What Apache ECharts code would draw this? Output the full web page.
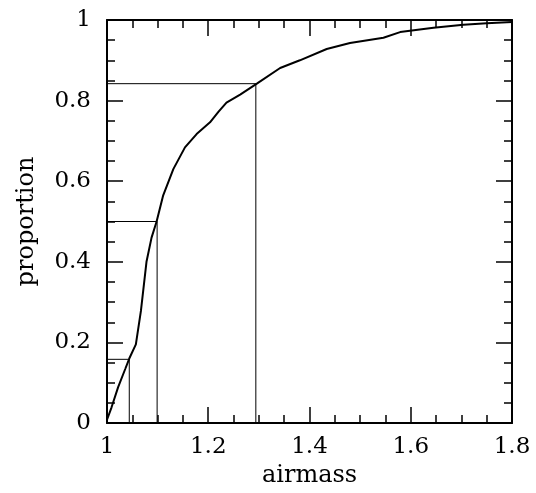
<!DOCTYPE html>
<html>
<head>
<meta charset="utf-8">
<script src="https://cdn.jsdelivr.net/npm/echarts@6/dist/echarts.min.js"></script>
<style>
html,body{margin:0;padding:0;background:#fff;}
#main{width:536px;height:493px;}
</style>
</head>
<body>
<div id="main"></div>
<script>
// Cumulative distribution of airmass
const airmass = [1.000, 1.009, 1.022, 1.036, 1.044, 1.057, 1.067, 1.078, 1.088, 1.098, 1.111, 1.131, 1.154, 1.177, 1.2035, 1.220, 1.236, 1.263, 1.296, 1.342, 1.381, 1.434, 1.480, 1.546, 1.579, 1.645, 1.704, 1.750, 1.800];
const proportion = [0.008, 0.039, 0.089, 0.134, 0.160, 0.195, 0.278, 0.400, 0.460, 0.500, 0.565, 0.630, 0.684, 0.717, 0.746, 0.772, 0.795, 0.815, 0.842, 0.881, 0.900, 0.928, 0.943, 0.956, 0.970, 0.981, 0.988, 0.992, 0.995];
// Quantile markers (16%, 50%, 84%)
const quantileX = [1.044, 1.099, 1.294];
const quantileY = [0.158, 0.500, 0.842];
// Axis ranges / tick labels
const xMin = 1, xMax = 1.8, xStep = 0.2;
const yMin = 0, yMax = 1, yStep = 0.2;

const FONT = '"DejaVu Serif", "Liberation Serif", serif';
const fmt = v => String(Number(v.toFixed(1)));

function axisCommon(show, margin){
  return {
    axisLine: {show: true, onZero: false, lineStyle: {color: '#000', width: 2}},
    axisTick: {show: true, inside: true, length: 16, lineStyle: {color: '#000', width: 1.5}},
    minorTick: {show: true, splitNumber: 4, length: 8, lineStyle: {color: '#000', width: 1.5}},
    splitLine: {show: false},
    minorSplitLine: {show: false},
    axisLabel: {show: show, color: '#000', fontFamily: FONT, fontSize: 23, margin: margin || 8, formatter: fmt}
  };
}

const series = [{
  type: 'line',
  data: airmass.map((x, i) => [x, proportion[i]]),
  showSymbol: false,
  symbol: 'none',
  lineStyle: {color: '#000', width: 2},
  z: 5
}];
quantileX.forEach((qx, i) => {
  series.push({
    type: 'line',
    data: [[qx, yMin], [qx, quantileY[i]], [xMin, quantileY[i]]],
    showSymbol: false,
    symbol: 'none',
    lineStyle: {color: '#000', width: 1},
    z: 3
  });
});

const chart = echarts.init(document.getElementById('main'), null, {renderer: 'canvas'});
chart.setOption({
  animation: false,
  backgroundColor: '#fff',
  grid: {left: 107, right: 24, top: 20, bottom: 67},
  xAxis: [
    Object.assign({type: 'value', position: 'bottom', min: xMin, max: xMax, interval: xStep,
      name: 'airmass', nameLocation: 'middle', nameGap: 41,
      nameTextStyle: {color: '#000', fontFamily: FONT, fontSize: 24}}, axisCommon(true, 13)),
    Object.assign({type: 'value', position: 'top', min: xMin, max: xMax, interval: xStep}, axisCommon(false))
  ],
  yAxis: [
    Object.assign({type: 'value', position: 'left', min: yMin, max: yMax, interval: yStep,
      name: 'proportion', nameLocation: 'middle', nameGap: 68,
      nameTextStyle: {color: '#000', fontFamily: FONT, fontSize: 24}}, axisCommon(true, 16)),
    Object.assign({type: 'value', position: 'right', min: yMin, max: yMax, interval: yStep}, axisCommon(false))
  ],
  series: series
});
</script>
</body>
</html>
